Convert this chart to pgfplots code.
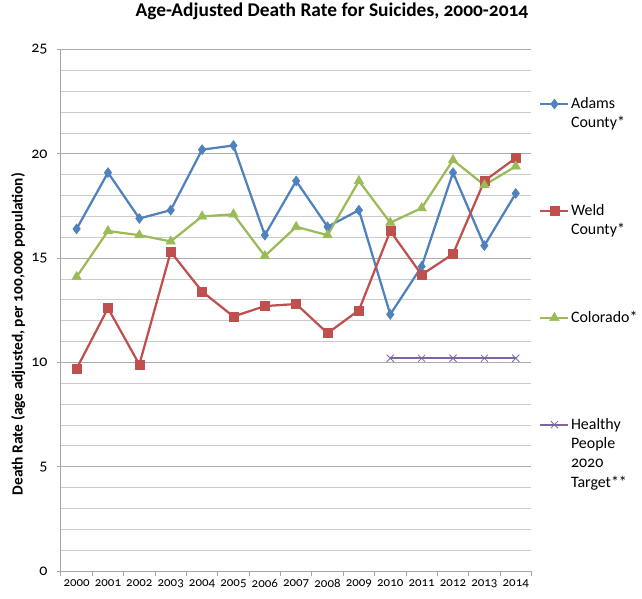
\documentclass[border=0pt]{standalone}
\usepackage{fontspec}
\setmainfont{Carlito}[Numbers=OldStyle]
\usepackage{pgfplots}
\usepackage{pgfplotstable}
\pgfplotsset{compat=1.18}

\definecolor{adamsblue}{HTML}{4F81BD}
\definecolor{weldred}{HTML}{C0504D}
\definecolor{cogreen}{HTML}{9BBB59}
\definecolor{hppurple}{HTML}{8064A2}

% Age-adjusted suicide death rates per 100,000, years 2000-2014 as 0-14
\pgfplotstableread{
x  adams weld colorado
0  16.4  9.7  14.1
1  19.1  12.6 16.3
2  16.9  9.9  16.1
3  17.3  15.3 15.8
4  20.2  13.4 17.0
5  20.4  12.2 17.1
6  16.1  12.7 15.1
7  18.7  12.8 16.5
8  16.5  11.4 16.1
9  17.3  12.5 18.7
10 12.3  16.3 16.7
11 14.6  14.2 17.4
12 19.1  15.2 19.7
13 15.6  18.7 18.5
14 18.1  19.8 19.4
}\rates

% multi-line legend text, aligned on its first line
\newcommand{\lines}[1]{\begin{tabular}[t]{@{}l@{}}#1\end{tabular}}

\begin{document}
\begin{tikzpicture}
\begin{axis}[
  scale only axis,
  width=471bp, height=522bp,
  xmin=-0.5, xmax=14.5, ymin=0, ymax=25,
  axis x line*=bottom, axis y line*=left,
  axis line style={draw=gray!70, line width=0.9pt},
  xtick={0,...,14},
  xticklabels={2000,2001,2002,2003,2004,2005,2006,2007,2008,2009,2010,2011,2012,2013,2014},
  major x tick style={draw=none},
  minor xtick={-0.5,0.5,...,14.5},
  minor x tick style={draw=gray!70, line width=0.9pt},
  ytick={0,5,...,25},
  minor ytick={1,2,3,4,6,7,8,9,11,12,13,14,16,17,18,19,21,22,23,24},
  minor y tick style={draw=none},
  major y tick style={draw=gray!70, line width=0.9pt},
  tick align=outside,
  major tick length=4bp, minor tick length=5bp,
  ymajorgrids, yminorgrids,
  major grid style={draw=gray!65, line width=0.9pt},
  minor grid style={draw=gray!40, line width=0.9pt},
  /pgf/number format/assume math mode=true,
  xticklabel style={font=\fontsize{13}{15}\selectfont, yshift=-1bp},
  yticklabel style={font=\fontsize{16}{18}\selectfont, xshift=-6bp},
  ylabel={Death Rate (age adjusted, per 100,000 population)},
  ylabel style={at={(axis description cs:-0.091,0.454)}, anchor=center,
    font=\bfseries\fontsize{15.5}{17}\selectfont},
  title={Age-Adjusted Death Rate for Suicides, 2000-2014},
  title style={at={(axis description cs:0.576,1.061)}, anchor=center,
    font=\bfseries\fontsize{19.5}{21}\selectfont},
  every axis plot/.append style={line width=2.25bp},
  legend image code/.code={%
    \draw[mark repeat=2,mark phase=2] plot coordinates {(0bp,4.5bp) (14bp,4.5bp) (28bp,4.5bp)};},
  legend style={at={(axis description cs:1.01,0.914)}, anchor=north west,
    draw=none, fill=none, row sep=0pt,
    font=\fontsize{16}{19.5}\selectfont,
    cells={anchor=base west},
    nodes={text height=10bp, text depth=93bp, inner xsep=1.5bp}},
]
\addplot[color=adamsblue, mark=diamond*, mark size=5bp, mark options={solid, line width=0.5pt}]
  table[x=x, y=adams] {\rates};
\addlegendentry{\lines{Adams\\County*}}
\addplot[color=weldred, mark=square*, mark size=4.5bp, mark options={solid, line width=0.5pt}]
  table[x=x, y=weld] {\rates};
\addlegendentry{\lines{Weld\\County*}}
\addplot[color=cogreen, mark=triangle*, mark size=5.5bp, mark options={solid, line width=0.5pt}]
  table[x=x, y=colorado] {\rates};
\addlegendentry{Colorado*}
\addplot[color=hppurple, mark=x, mark size=5bp, mark options={solid, line width=0.8pt}]
  coordinates {(10,10.2) (11,10.2) (12,10.2) (13,10.2) (14,10.2)};
\addlegendentry{\lines{Healthy\\People\\2020\\Target**}}
\end{axis}
\path ([xshift=-61bp,yshift=-28bp]current axis.south west)
  rectangle ([xshift=110bp,yshift=48bp]current axis.north east);
\end{tikzpicture}
\end{document}
